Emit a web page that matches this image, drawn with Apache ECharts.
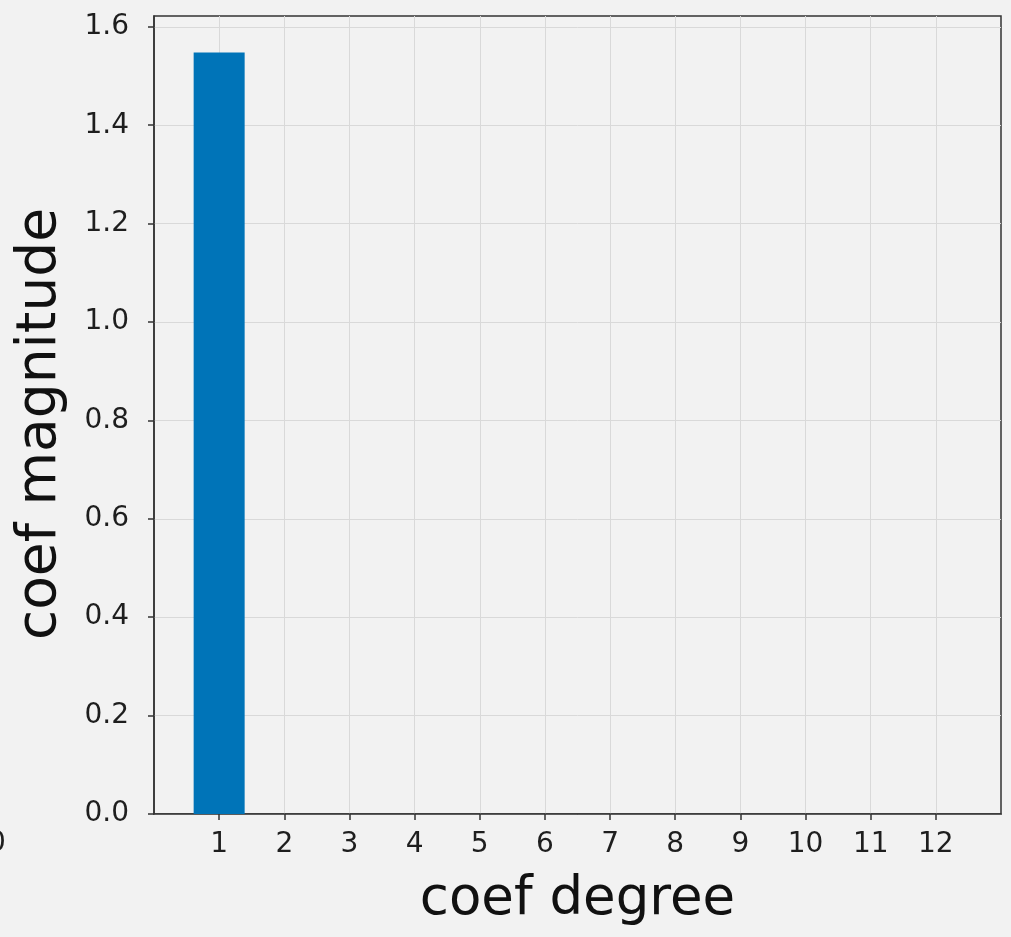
<!DOCTYPE html>
<html>
<head>
<meta charset="utf-8">
<style>
  html, body { margin: 0; padding: 0; background: #f2f2f2; }
  #chart { width: 1011px; height: 937px; }
</style>
<script src="https://cdn.jsdelivr.net/npm/echarts@6/dist/echarts.min.js"></script>
</head>
<body>
<div id="chart"></div>
<script>
// Data
const degrees = [1, 2, 3, 4, 5, 6, 7, 8, 9, 10, 11, 12];
const magnitudes = [1.548, 0, 0, 0, 0, 0, 0, 0, 0, 0, 0, 0];
const yTicks = [0.0, 0.2, 0.4, 0.6, 0.8, 1.0, 1.2, 1.4, 1.6];
const xLabel = 'coef degree';
const yLabel = 'coef magnitude';

const FONT = 'DejaVu Sans';
const chart = echarts.init(document.getElementById('chart'), null, { renderer: 'canvas' });

const option = {
  backgroundColor: '#f2f2f2',
  animation: false,
  grid: {
    left: 154, right: 10, top: 16, bottom: 123,
    show: true, borderColor: '#333', borderWidth: 1.5, backgroundColor: 'transparent',
    containLabel: false
  },
  xAxis: {
    type: 'value',
    min: 0, max: 13, interval: 1,
    name: xLabel,
    nameLocation: 'middle',
    nameGap: 60,
    nameTextStyle: { fontFamily: FONT, fontSize: 53, color: '#111' },
    axisLine: { show: true, onZero: false, lineStyle: { color: '#333', width: 1.5 } },
    axisTick: { show: true, inside: false, length: 6, lineStyle: { color: '#333', width: 1.5 }, customValues: degrees },
    axisLabel: { customValues: degrees, fontFamily: FONT, fontSize: 28, color: '#1e1e1e', margin: 17,
                 formatter: v => String(v) },
    splitLine: { show: true, lineStyle: { color: '#d9d9d9', width: 1 } }
  },
  yAxis: {
    type: 'value',
    min: 0, max: 1.622, interval: 0.2,
    name: yLabel,
    nameLocation: 'middle',
    nameGap: 86,
    nameTextStyle: { fontFamily: FONT, fontSize: 55, color: '#111', padding: [0, 18, 0, 0] },
    axisLine: { show: true, lineStyle: { color: '#333', width: 1.5 } },
    axisTick: { show: true, inside: false, length: 6, lineStyle: { color: '#333', width: 1.5 }, customValues: yTicks },
    axisLabel: { customValues: yTicks, fontFamily: FONT, fontSize: 28, color: '#1e1e1e', margin: 25,
                 formatter: v => v.toFixed(1) },
    splitLine: { show: true, lineStyle: { color: '#d9d9d9', width: 1 } }
  },
  series: [{
    type: 'bar',
    data: degrees.map((d, i) => [d, magnitudes[i]]),
    barWidth: 51,
    itemStyle: { color: '#0074b8' },
    emphasis: { disabled: true }
  }],
  graphic: [{
    type: 'text',
    left: -12,
    top: 830,
    style: { text: '0', fontFamily: FONT, fontSize: 28, fill: '#1e1e1e' }
  }]
};
chart.setOption(option);
</script>
</body>
</html>
